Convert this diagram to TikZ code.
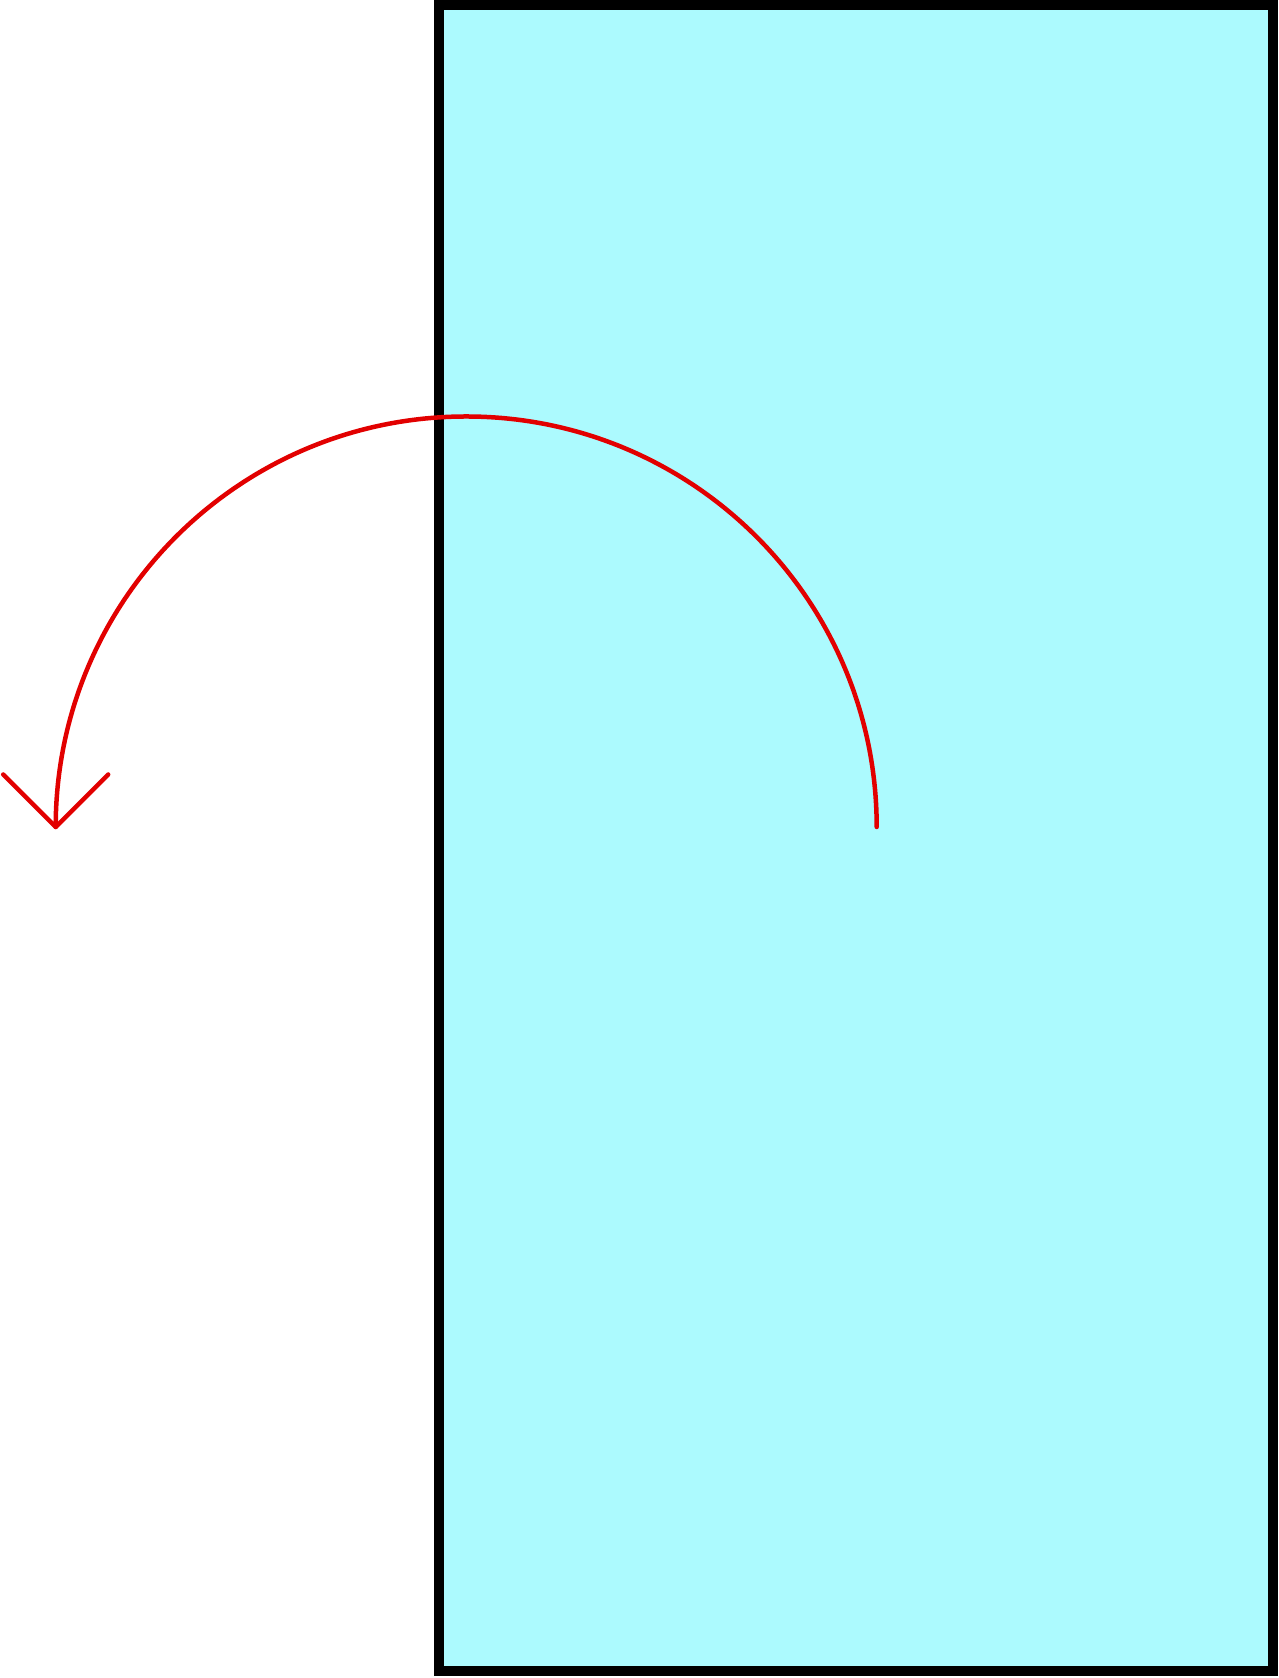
\documentclass[tikz,border=0pt]{standalone}
\begin{document}
\begin{tikzpicture}[x=1pt,y=1pt,
  panel/.style={draw=black,line width=10pt,fill={rgb,255:red,172;green,250;blue,254}},
  redline/.style={draw={rgb,255:red,226;green,0;blue,0},line width=4.5pt,line cap=round,line join=round}]
\useasboundingbox (0,0) rectangle (1278,1678);
\fill[white] (0,0) rectangle (1278,1678);
\draw[panel] (439,6.5) rectangle (1272.5,1672.5);
\coordinate (start) at (876.7,851);
\coordinate (tip) at (55.7,851);
\draw[redline] (start) arc[start angle=0,end angle=180,radius=410.5];
\draw[redline] ([shift={(-52.5,52.5)}]tip) -- (tip) -- ([shift={(52.5,52.5)}]tip);
\end{tikzpicture}
\end{document}
